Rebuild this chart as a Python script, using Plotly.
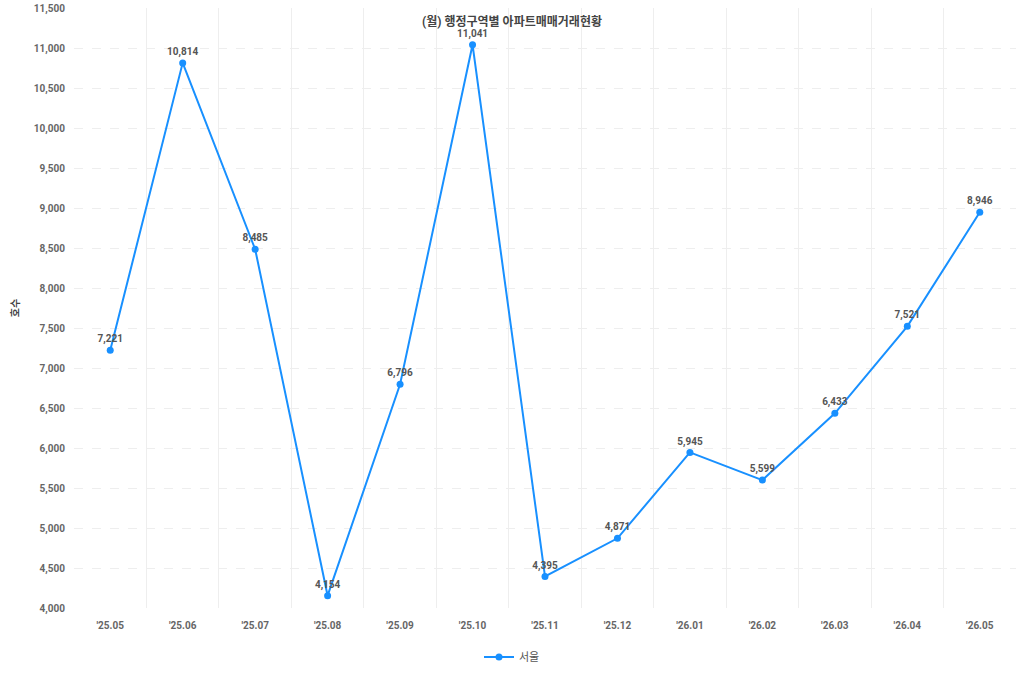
import plotly.graph_objects as go

months = ["'25.05", "'25.06", "'25.07", "'25.08", "'25.09", "'25.10", "'25.11",
          "'25.12", "'26.01", "'26.02", "'26.03", "'26.04", "'26.05"]
seoul = [7221, 10814, 8485, 4154, 6796, 11041, 4395, 4871, 5945, 5599, 6433, 7521, 8946]

FONT = "Roboto, 'Noto Sans CJK KR', sans-serif"

fig = go.Figure()
fig.add_trace(go.Scatter(
    x=months, y=seoul, name="서울", mode="lines+markers+text",
    line=dict(color="#1890ff", width=2),
    marker=dict(color="#1890ff", size=7),
    text=[f"{v:,}" for v in seoul], textposition="top center",
    textfont=dict(family=FONT, size=10, color="#555555", weight="bold"),
    cliponaxis=False,
))

fig.update_layout(
    width=1024, height=683,
    margin=dict(l=74, r=8, t=8, b=75, pad=0, autoexpand=False),
    paper_bgcolor="white", plot_bgcolor="white",
    font=dict(family=FONT, color="#555555"),
    title=dict(text="(월) 행정구역별 아파트매매거래현황", x=0.5, xref="container",
               y=1 - 22 / 683, yref="container", yanchor="middle", xanchor="center",
               font=dict(size=12, color="#444444", family=FONT, weight="bold")),
    showlegend=True,
    legend=dict(orientation="h", xref="container", yref="container", x=0.5, y=1 - 657 / 683,
                xanchor="center", yanchor="middle", font=dict(size=11, color="#555555")),
    xaxis=dict(type="category", range=[-0.5, len(months) - 0.5], tickson="boundaries",
               showgrid=True, gridcolor="#eeeeee",
               gridwidth=1, ticks="", showline=False, zeroline=False, automargin=False,
               tickfont=dict(size=10, color="#666666", weight="bold"), ticklabelstandoff=10),
    yaxis=dict(range=[4000, 11500], dtick=500, tickformat=",", showgrid=True,
               gridcolor="#eeeeee", griddash="dash", zeroline=False, showline=False,
               automargin=False,
               tickfont=dict(size=10, color="#666666", weight="bold"), ticklabelstandoff=8,
               title=dict(text="호수", font=dict(size=10, color="#444444", weight="bold"),
                          standoff=12)),
)

fig.write_html("out.html")
